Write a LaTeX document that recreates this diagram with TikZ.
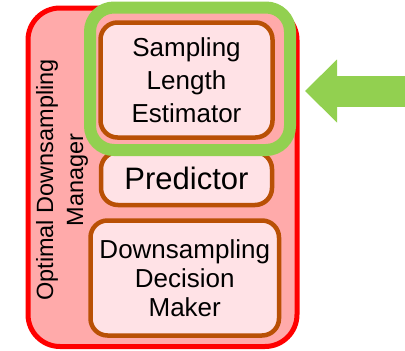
\documentclass[tikz,border=0pt]{standalone}
\usepackage{fontspec}
\setmainfont{Liberation Sans}
\usepackage{tikz}
\usetikzlibrary{arrows.meta,positioning}

\definecolor{odmred}{RGB}{255,0,0}
\definecolor{odmfill}{RGB}{255,170,170}
\definecolor{unitfill}{RGB}{255,226,230}
\definecolor{unitline}{RGB}{185,80,5}
\definecolor{hlgreen}{RGB}{146,208,80}

\begin{document}
\begin{tikzpicture}[x=1pt,y=-1pt,
    unitbox/.style={draw=unitline, fill=unitfill, line width=4.5pt,
        rounded corners=17pt, align=center, inner sep=0pt}]
    \useasboundingbox (0,0) rectangle (405,351);

    \node[draw=odmred, fill=odmfill, line width=5pt, rounded corners=32pt,
        minimum width=269pt, minimum height=338.5pt] (odm) at (162.5,177.25) {};
    \node[rotate=90, align=center, font=\fontsize{23.5}{30}\selectfont]
        (odmlabel) at (62,180) {Optimal Downsampling\\Manager};

    \node[unitbox, minimum width=172pt, minimum height=115pt,
        font=\fontsize{26}{33}\selectfont] (sle) at (186.5,80)
        {Sampling\\Length\\Estimator};
    \node[unitbox, minimum width=171pt, minimum height=53pt,
        font=\fontsize{31}{37}\selectfont] (pred) at (186.5,178.5)
        {Predictor};
    \node[unitbox, minimum width=188.5pt, minimum height=115pt,
        font=\fontsize{26}{29}\selectfont] (ddm) at (184.75,278)
        {Downsampling\\Decision\\Maker};

    % highlight round the estimator
    \node[draw=hlgreen, line width=12pt, rounded corners=24pt,
        minimum width=200pt, minimum height=142.5pt] (hl) at (190,78.75) {};

    \coordinate (arrowtail) at (405,91);
    \coordinate (arrowtip) at (305,91);
    \draw[hlgreen, line width=31pt,
        -{Triangle[length=32pt, width=63pt, line width=0pt]}]
        (arrowtail) -- (arrowtip);
\end{tikzpicture}
\end{document}
